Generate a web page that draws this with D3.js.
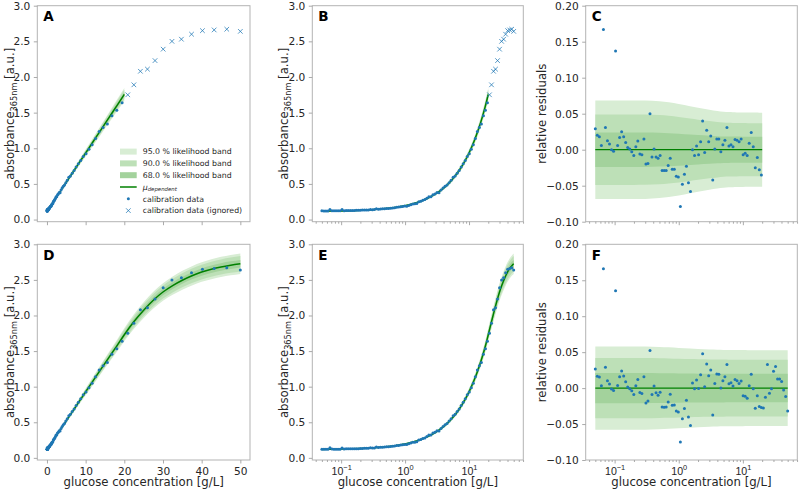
<!DOCTYPE html>
<html><head><meta charset="utf-8">
<script src="https://cdn.jsdelivr.net/npm/d3@7"></script>
<style>
body{margin:0;background:#fff}
svg{font-family:"DejaVu Sans",sans-serif;display:block}
</style></head><body>
<svg id="c" width="800" height="491"></svg>
<script>
// ---------------- data ----------------
const concentration = [0.05,0.05377,0.05783,0.06219,0.06688,0.07192,0.07735,0.08318,0.08945,0.0962,
0.1035,0.1113,0.1197,0.1287,0.1384,0.1488,0.16,0.1721,0.1851,0.199,
0.2141,0.2302,0.2476,0.2662,0.2863,0.3079,0.3311,0.3561,0.383,0.4119,
0.4429,0.4763,0.5122,0.5509,0.5924,0.6371,0.6852,0.7368,0.7924,0.8522,
0.9164,0.9856,1.06,1.14,1.226,1.318,1.418,1.525,1.64,1.763,
1.896,2.039,2.193,2.358,2.536,2.728,2.933,3.155,3.392,3.648,
3.924,4.219,4.538,4.88,5.248,5.644,6.069,6.527,7.019,7.549,
8.118,8.731,9.389,10.1,10.86,11.68,12.56,13.51,14.52,15.62,
16.8,18.06,19.43,20.89,22.47,24.16,25.98,27.94,30.05,32.32,
34.76,37.38,40.2,43.23,46.49,50];
const absorbance = [0.1223,0.1214,0.1215,0.1204,0.1404,0.1243,0.1225,0.1225,0.1221,0.1224,
0.1401,0.1245,0.1267,0.1285,0.1283,0.1282,0.1282,0.1289,0.1295,0.13,
0.1328,0.1353,0.1343,0.1356,0.1404,0.1371,0.1394,0.1514,0.1448,0.1488,
0.15,0.1522,0.1557,0.1555,0.1588,0.1623,0.1673,0.1733,0.175,0.1799,
0.1834,0.1885,0.1861,0.1988,0.2084,0.2183,0.2209,0.2264,0.2498,0.258,
0.272,0.2805,0.2986,0.3211,0.3215,0.3478,0.3593,0.3806,0.3759,0.414,
0.4421,0.4664,0.4835,0.5165,0.5497,0.592,0.6115,0.6498,0.6869,0.7368,
0.7822,0.8293,0.886,0.9249,0.9855,1.048,1.138,1.235,1.293,1.341,
1.457,1.532,1.639,1.75,1.89,2.08,2.11,2.23,2.39,2.5,
2.53,2.6,2.65,2.66,2.67,2.64];
const nUsedLinear = 83; // points above 20 g/L are ignored by the linear model
const residualsLinear = [0.029,0.020,0.018,0.006,0.167,0.031,0.0125,0.008,0.000,-0.002,
0.137,0.006,0.017,0.025,0.018,0.010,0.003,0.001,-0.003,-0.008,
0.004,0.012,-0.006,-0.007,0.015,-0.020,-0.019,0.050,-0.010,0.001,
-0.010,-0.012,-0.008,-0.029,-0.029,-0.029,-0.022,-0.012,-0.027,-0.027,
-0.037,-0.038,-0.079,-0.048,-0.034,-0.023,-0.046,-0.058,0.000,-0.008,
0.005,-0.007,0.011,0.040,-0.004,0.027,0.011,0.019,-0.042,0.001,
0.015,0.015,-0.003,0.007,0.013,0.031,0.005,0.007,0.004,0.014,
0.013,0.011,0.015,-0.007,-0.005,-0.008,0.009,0.024,0.004,-0.025,
-0.011,-0.028,-0.035];
const residualsFull = [0.0266,0.0164,0.0154,0.0033,0.166,0.029,0.0103,0.0056,-0.0014,-0.0033,
0.1355,0.0037,0.0159,0.0238,0.0168,0.0089,0.0014,-0.0009,-0.0037,-0.0089,
0.0033,0.0121,-0.0061,-0.0075,0.0159,-0.0206,-0.0178,0.0523,-0.0089,0.0028,
-0.0065,-0.0098,-0.0056,-0.0262,-0.0266,-0.0262,-0.0192,-0.0084,-0.0238,-0.0234,
-0.0318,-0.0332,-0.0748,-0.0425,-0.0285,-0.0168,-0.0402,-0.0519,0.007,-0.0009,
0.0112,-0.0005,0.0187,0.0477,0.0019,0.0336,0.0173,0.0252,-0.0374,0.0065,
0.0196,0.0192,0.0,0.0103,0.0159,0.0327,0.0061,0.0075,0.0028,0.0121,
0.0103,0.0065,0.0098,-0.0107,-0.0112,-0.014,0.0033,0.0192,-0.0009,-0.028,
-0.0107,-0.0257,-0.0271,-0.0276,-0.0126,0.0327,-0.007,-0.0009,0.0234,0.0299,
0.0126,0.0126,0.0093,-0.0028,-0.0117,-0.0318];

// model predictions
const curveX = [0.05,0.07,0.1,0.15,0.2,0.3,0.5,0.7,1,1.5,2,3,4,5,6,7,8,10,12,14,16,18,20,
22.5,25,27.5,30,32.5,35,37.5,40,42.5,45,47.5,50];
const muLinear = [0.1171,0.1187,0.1212,0.1253,0.1294,0.1376,0.1541,0.1705,0.1951,0.2362,0.2772,0.3593,
0.4414,0.5235,0.6056,0.6877,0.7698,0.934,1.0982,1.2624,1.4266,1.5908,1.755];
const muFull = [0.1191,0.1207,0.1231,0.1272,0.1312,0.1394,0.1556,0.1718,0.1962,0.2368,0.2774,0.3586,
0.4398,0.521,0.6022,0.6834,0.7646,0.927,1.089,1.25,1.409,1.567,1.73,
1.915,2.075,2.215,2.33,2.42,2.495,2.558,2.61,2.65,2.682,2.707,2.727];
// relative half-widths of the likelihood bands
const band95Linear = [0.0685,0.0685,0.0685,0.0684,0.0684,0.0683,0.0672,0.0658,0.0636,0.0605,0.0583,0.0555,
0.0538,0.0527,0.0522,0.052,0.0518,0.0517,0.0516,0.0515,0.0515,0.0514,0.0514];
const band90Linear = [0.049,0.049,0.049,0.049,0.0489,0.0488,0.0481,0.0471,0.0455,0.0433,0.0417,0.0397,
0.0385,0.0377,0.0373,0.0372,0.0371,0.037,0.0369,0.0369,0.0368,0.0368,0.0368];
const band68Linear = [0.024,0.024,0.024,0.024,0.0239,0.0239,0.0235,0.023,0.0223,0.0212,0.0204,0.0194,
0.0188,0.0184,0.0183,0.0182,0.0182,0.0181,0.0181,0.018,0.018,0.018,0.018];
const band95Full = [0.058,0.058,0.058,0.0579,0.0579,0.0578,0.0573,0.0567,0.0559,0.055,0.0543,0.0536,
0.0533,0.0531,0.053,0.053,0.0529,0.0529,0.0528,0.0528,0.0528,0.0528,0.0528,
0.0528,0.0528,0.0528,0.0528,0.0528,0.0528,0.0528,0.0528,0.0528,0.0528,0.0528,0.0528];
const band90Full = [0.042,0.042,0.042,0.042,0.042,0.0419,0.0416,0.0413,0.0409,0.0405,0.0402,0.0399,
0.0398,0.0397,0.0396,0.0396,0.0396,0.0396,0.0395,0.0395,0.0395,0.0395,0.0395,
0.0395,0.0395,0.0395,0.0395,0.0395,0.0395,0.0395,0.0395,0.0395,0.0395,0.0395,0.0395];
const band68Full = [0.021,0.021,0.021,0.021,0.021,0.021,0.0208,0.0206,0.0204,0.0202,0.0201,0.02,
0.0199,0.0199,0.0198,0.0198,0.0198,0.0198,0.0198,0.0198,0.0198,0.0198,0.0198,
0.0198,0.0198,0.0198,0.0198,0.0198,0.0198,0.0198,0.0198,0.0198,0.0198,0.0198,0.0198];

const bandLabels = ["95.0 % likelihood band","90.0 % likelihood band","68.0 % likelihood band"];
const legendLabels = ["calibration data","calibration data (ignored)"];
const panelLetters = ["A","B","C","D","E","F"];
const yTicksAbs = [0,0.5,1,1.5,2,2.5,3];
const yTicksRes = [-0.1,-0.05,0,0.05,0.1,0.15,0.2];
const xTicksLin = [0,10,20,30,40,50];
const xTicksLogMajor = [0.1,1,10];
const logExponents = ["\u22121","0","1"];

// ---------------- style / layout ----------------
const bandColors = ["#d8edd4","#bde0b7","#a3d29c"];
const lineColor = "#008000";
const dotColor = "#1f77b4";
const spineColor = "#b3b3b3";
const tickColor = "#a0a0a0";
const textColor = "#262626";
const L = [37.3,312.3,585.7], W = [212.7,211,211.6];
const T = [5.7,244.3], H = [216,215.7];
const ylabelOff = [23,24,40];
const tickFS = 10.6, labelFS = 11.7;

const svg = d3.select("#c");

function drawPanel(idx){
  const col = idx % 3, row = Math.floor(idx/3);
  const g = svg.append("g").attr("transform",`translate(${L[col]},${T[row]})`);
  const w = W[col], h = H[row];
  const isLog = col > 0, isRes = col === 2, full = row === 1;
  const x = isLog ? d3.scaleLog().domain([0.0354,70.62]).range([0,w])
                  : d3.scaleLinear().domain([-2.4975,52.4975]).range([0,w]);
  const y = isRes ? d3.scaleLinear().domain([-0.1,0.2]).range([h,0])
                  : d3.scaleLinear().domain([-0.03,3.0]).range([h,0]);
  const mu = full ? muFull : muLinear;
  const n = mu.length;
  const xs = curveX.slice(0,n);
  const bands = full ? [band95Full,band90Full,band68Full] : [band95Linear,band90Linear,band68Linear];
  const center = i => isRes ? 0 : mu[i];
  const scale = i => isRes ? 1 : mu[i];

  bands.forEach((q,k)=>{
    const area = d3.area()
      .x((d,i)=>x(xs[i]))
      .y0((d,i)=>y(center(i) - q[i]*scale(i)))
      .y1((d,i)=>y(center(i) + q[i]*scale(i)))
      .curve(d3.curveMonotoneX);
    g.append("path").datum(xs).attr("d",area).attr("fill",bandColors[k]);
  });
  const line = d3.line().x((d,i)=>x(xs[i])).y((d,i)=>y(center(i))).curve(d3.curveMonotoneX);
  g.append("path").datum(xs).attr("d",line).attr("fill","none")
    .attr("stroke",lineColor).attr("stroke-width", isRes ? 1.3 : 1.5);

  // data points
  let pts;
  if (isRes) {
    const r = full ? residualsFull : residualsLinear;
    pts = r.map((v,i)=>({x:concentration[i], y:v}));
  } else {
    const m = full ? absorbance.length : nUsedLinear;
    pts = absorbance.slice(0,m).map((v,i)=>({x:concentration[i], y:v}));
  }
  g.append("g").selectAll("circle").data(pts).join("circle")
    .attr("cx",d=>x(d.x)).attr("cy",d=>y(d.y)).attr("r",1.5).attr("fill",dotColor);
  if (!isRes && !full) {
    const ign = absorbance.slice(nUsedLinear).map((v,i)=>({x:concentration[i+nUsedLinear], y:v}));
    g.append("g").selectAll("path").data(ign).join("path")
      .attr("d",d=>{const cx=x(d.x), cy=y(d.y), s=2.3;
        return `M${cx-s},${cy-s}L${cx+s},${cy+s}M${cx-s},${cy+s}L${cx+s},${cy-s}`;})
      .attr("stroke",dotColor).attr("stroke-width",1).attr("stroke-opacity",0.75).attr("fill","none");
  }

  // spines
  g.append("rect").attr("x",0).attr("y",0).attr("width",w).attr("height",h)
    .attr("fill","none").attr("stroke",spineColor).attr("stroke-width",1);

  // y axis
  const ya = d3.axisLeft(y).tickValues(isRes ? yTicksRes : yTicksAbs)
    .tickFormat(isRes ? d3.format(".2f") : d3.format(".1f")).tickSize(3.5).tickPadding(3.5);
  const yg = g.append("g").call(ya);
  styleAxis(yg);

  // x axis
  const xg = g.append("g").attr("transform",`translate(0,${h})`);
  if (!isLog) {
    const xa = d3.axisBottom(x).tickValues(xTicksLin).tickSize(3.5).tickPadding(3.5)
      .tickFormat(row===1 ? d3.format("d") : "");
    xg.call(xa); styleAxis(xg);
  } else {
    const minor = x.ticks().filter(v => Math.abs(Math.log10(v)-Math.round(Math.log10(v)))>1e-6);
    const mg = xg.append("g").call(d3.axisBottom(x).tickValues(minor).tickSize(2).tickFormat(""));
    styleAxis(mg);
    const Mg = xg.append("g").call(d3.axisBottom(x).tickValues(xTicksLogMajor).tickSize(3.5).tickPadding(4.5).tickFormat(""));
    styleAxis(Mg);
    if (row===1) {
      Mg.selectAll(".tick").each(function(d,i){
        const t = d3.select(this).append("text").attr("y",14.6).attr("text-anchor","middle")
          .attr("fill",textColor).attr("font-size",tickFS);
        t.append("tspan").text("10");
        t.append("tspan").attr("dy",-4.2).attr("font-size",7.4).text(logExponents[xTicksLogMajor.indexOf(d)]);
      });
    }
  }

  // panel letter
  g.append("text").attr("x",6).attr("y",15.3).attr("font-weight","bold").attr("font-size",13.5)
    .attr("fill","#000").text(panelLetters[idx]);

  // y label
  const yl = g.append("text").attr("transform",`translate(${-ylabelOff[col]},${h/2}) rotate(-90)`)
    .attr("text-anchor","middle").attr("font-size",labelFS).attr("fill",textColor);
  if (isRes) yl.text("relative residuals");
  else {
    yl.append("tspan").text("absorbance");
    yl.append("tspan").attr("font-size",8.2).attr("dy",2.7).text("365nm");
    yl.append("tspan").attr("dy",-2.7).text(" [a.u.]");
  }
  // x label
  if (row===1) {
    g.append("text").attr("x",w/2).attr("y",486.5-T[row]).attr("text-anchor","middle")
      .attr("font-size",labelFS).attr("fill",textColor).text("glucose concentration [g/L]");
  }

  // legend in panel A
  if (idx===0) {
    const lg = svg.append("g");
    const lx = 120, lw = 16.7, tx = 142.7, rows = [151.6,163.4,175.2,187.0,198.8,210.6];
    bandLabels.forEach((lab,k)=>{
      lg.append("rect").attr("x",lx).attr("y",rows[k]-3).attr("width",lw).attr("height",6).attr("fill",bandColors[k]);
      lg.append("text").attr("x",tx).attr("y",rows[k]+2.8).attr("font-size",7.8).attr("fill",textColor).text(lab);
    });
    lg.append("line").attr("x1",lx).attr("x2",lx+lw).attr("y1",rows[3]).attr("y2",rows[3])
      .attr("stroke",lineColor).attr("stroke-width",1.5);
    const mt = lg.append("text").attr("x",tx).attr("y",rows[3]+2.5).attr("font-size",7.8).attr("fill",textColor);
    mt.append("tspan").attr("font-style","italic").text("\u03bc");
    mt.append("tspan").attr("font-size",5.4).attr("font-style","italic").attr("dy",1.8).text("dependent");
    lg.append("circle").attr("cx",lx+lw/2).attr("cy",rows[4]).attr("r",1.5).attr("fill",dotColor);
    lg.append("text").attr("x",tx).attr("y",rows[4]+2.8).attr("font-size",7.8).attr("fill",textColor).text(legendLabels[0]);
    const cx=lx+lw/2, cy=rows[5], s=2.3;
    lg.append("path").attr("d",`M${cx-s},${cy-s}L${cx+s},${cy+s}M${cx-s},${cy+s}L${cx+s},${cy-s}`)
      .attr("stroke",dotColor).attr("stroke-width",1).attr("stroke-opacity",0.75);
    lg.append("text").attr("x",tx).attr("y",rows[5]+2.8).attr("font-size",7.8).attr("fill",textColor).text(legendLabels[1]);
  }
}

function styleAxis(sel){
  sel.select(".domain").remove();
  sel.selectAll(".tick line").attr("stroke",tickColor).attr("stroke-width",0.9);
  sel.selectAll(".tick text").attr("fill",textColor).attr("font-size",tickFS)
    .attr("font-family","DejaVu Sans, sans-serif");
}

for (let i=0;i<6;i++) drawPanel(i);
</script>
</body></html>
